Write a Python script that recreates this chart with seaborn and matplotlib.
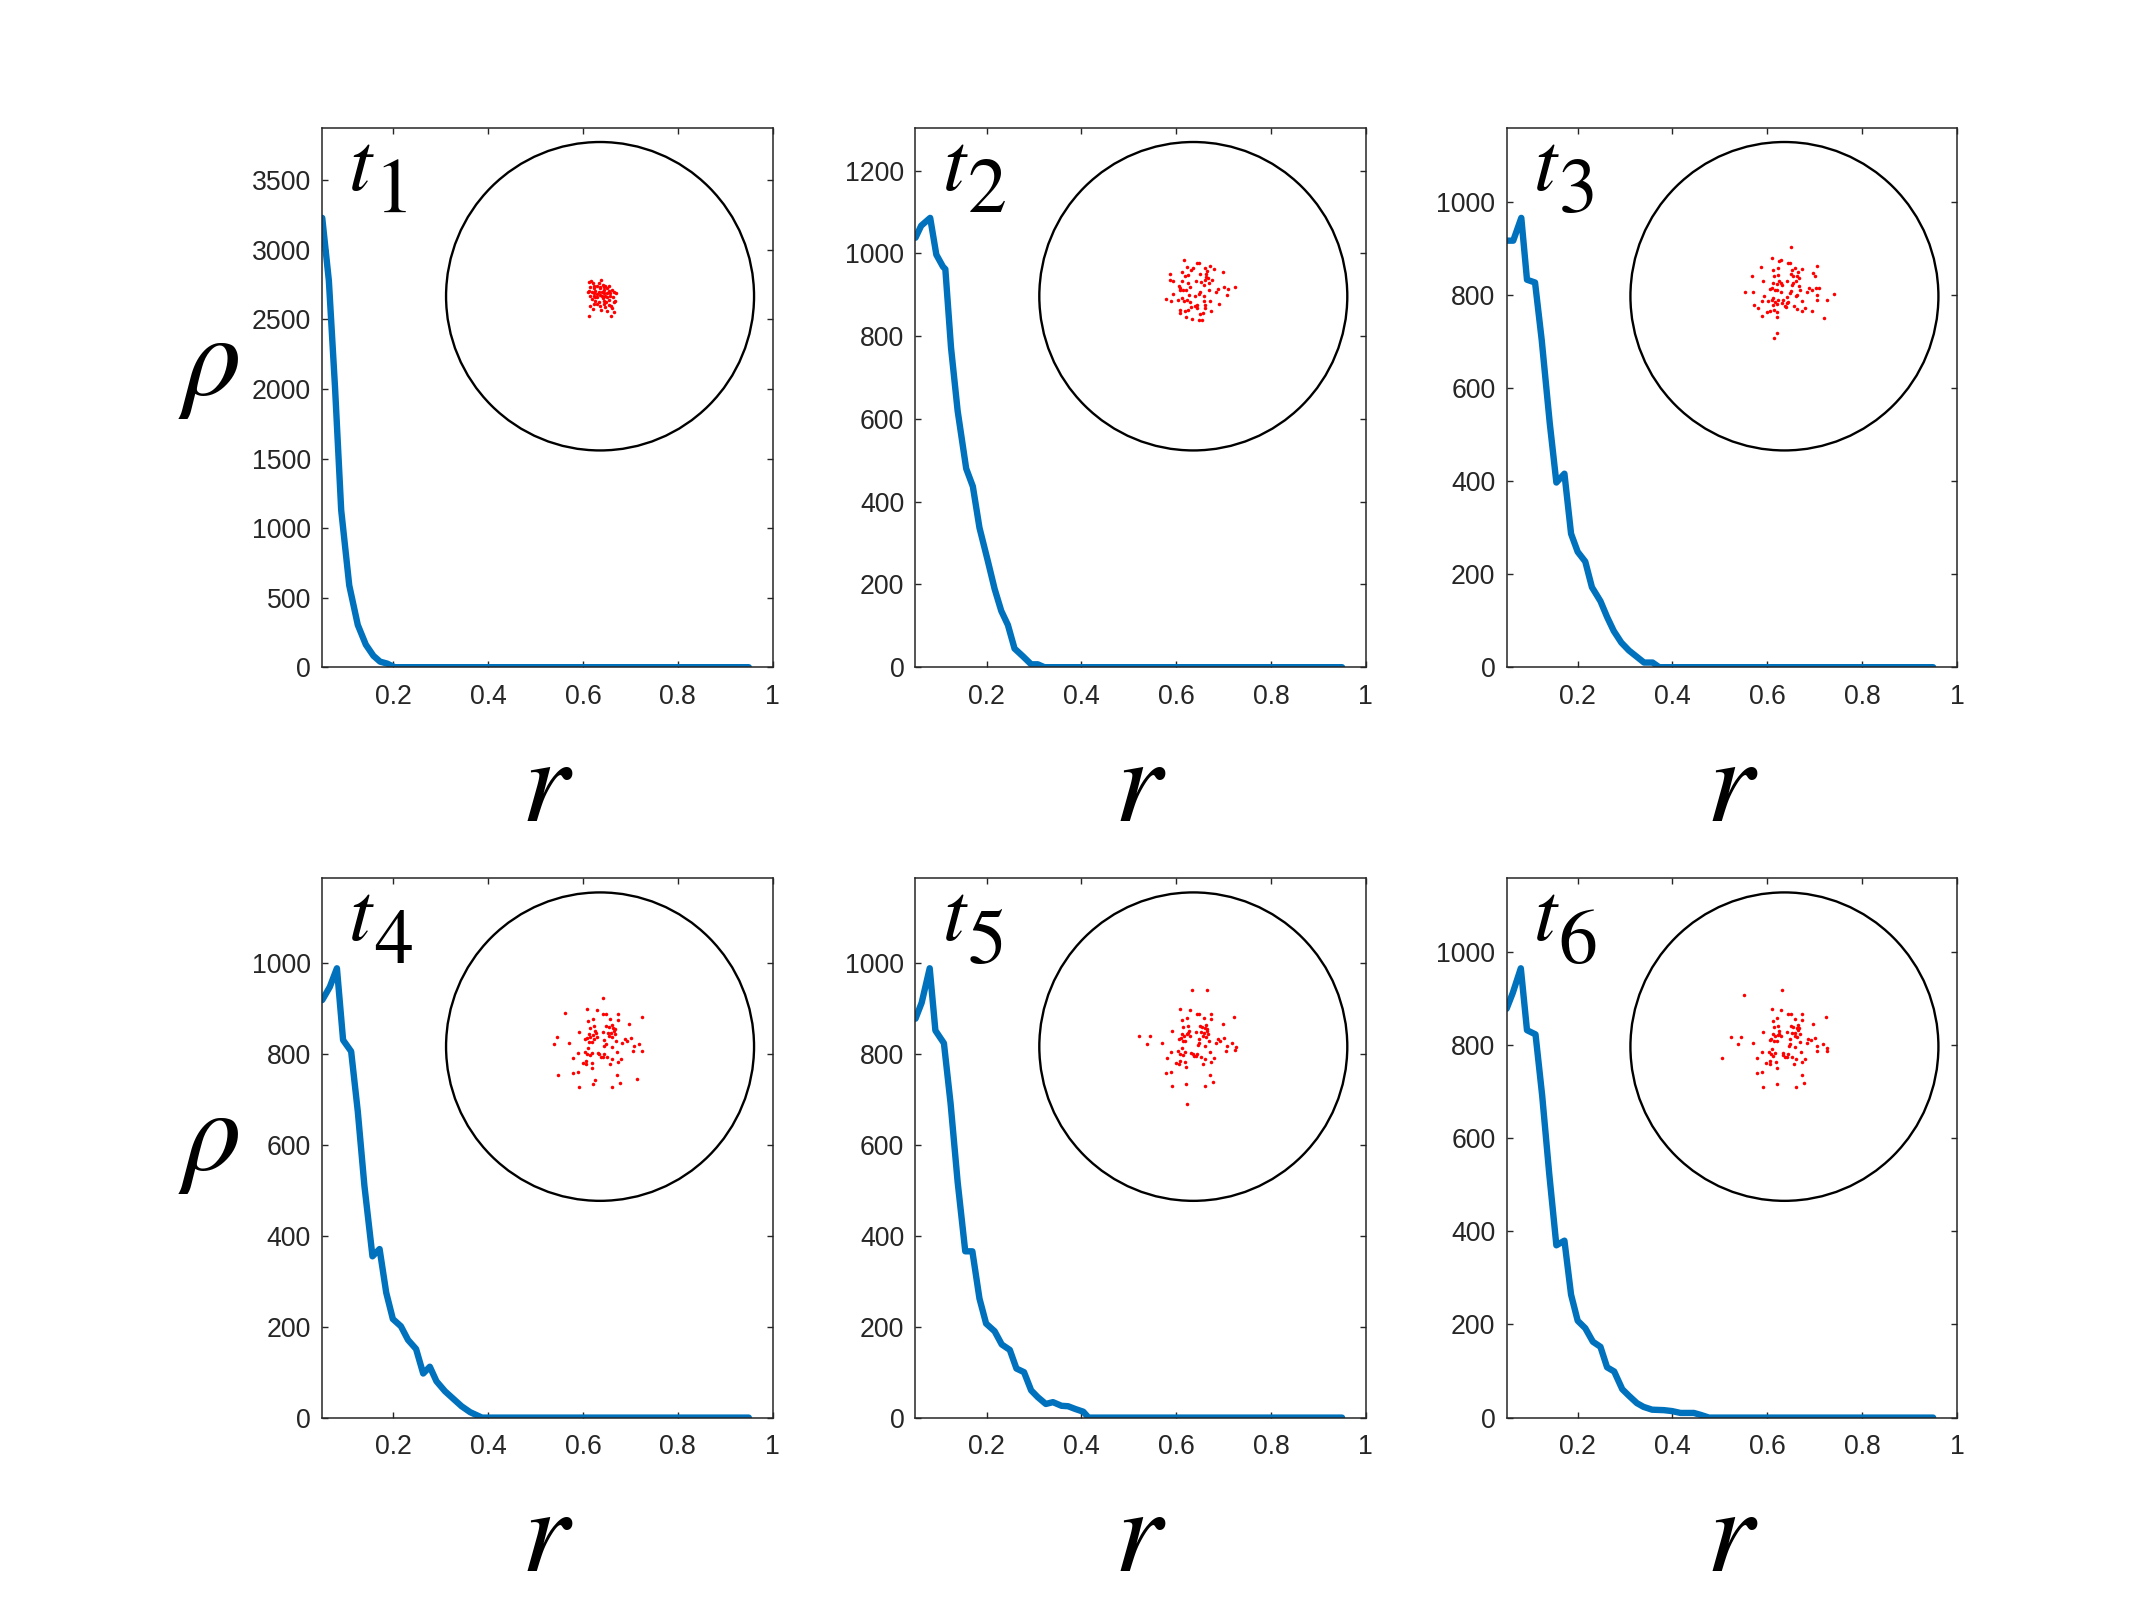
import numpy as np
import pandas as pd
import matplotlib.pyplot as plt
from matplotlib.patches import Circle
import seaborn as sns

# radial density profiles rho(r) for the six snapshots
r_t1 = [0.05, 0.064, 0.077, 0.090, 0.107, 0.125, 0.142, 0.158, 0.172, 0.187, 0.203, 0.95]
rho_t1 = [3230, 2778, 2010, 1129, 588, 304, 162, 82, 40, 26, 0, 0]

r_t2 = [0.05, 0.062, 0.081, 0.094, 0.108, 0.113, 0.125, 0.139, 0.157, 0.171, 0.185, 0.203, 0.217,
        0.231, 0.245, 0.259, 0.277, 0.294, 0.308, 0.322, 0.95]
rho_t2 = [1038, 1067, 1086, 997, 968, 962, 772, 619, 480, 437, 337, 255, 189,
          136, 102, 45, 26, 7, 7, 0, 0]

r_t3 = [0.05, 0.064, 0.081, 0.093, 0.110, 0.124, 0.141, 0.155, 0.172, 0.186, 0.200, 0.216,
        0.230, 0.248, 0.262, 0.276, 0.292, 0.308, 0.324, 0.340, 0.358, 0.372, 0.95]
rho_t3 = [917, 917, 966, 833, 827, 704, 525, 397, 416, 287, 248, 227,
          172, 142, 108, 78, 53, 36, 23, 10, 10, 0, 0]

r_t4 = [0.05, 0.066, 0.081, 0.094, 0.111, 0.125, 0.139, 0.156, 0.171, 0.185, 0.199, 0.216,
        0.231, 0.248, 0.263, 0.277, 0.291, 0.309, 0.327, 0.344, 0.362, 0.387, 0.95]
rho_t4 = [919, 948, 989, 831, 806, 674, 510, 355, 371, 275, 217, 201,
          171, 151, 97, 112, 80, 58, 41, 25, 12, 0, 0]

r_t5 = [0.05, 0.063, 0.080, 0.092, 0.110, 0.124, 0.139, 0.155, 0.170, 0.185, 0.199, 0.217, 0.232,
        0.249, 0.263, 0.279, 0.294, 0.308, 0.325, 0.340, 0.358, 0.372, 0.387, 0.404, 0.415, 0.95]
rho_t5 = [878, 913, 989, 852, 824, 692, 518, 366, 366, 262, 207, 190, 161,
          149, 108, 100, 60, 45, 30, 34, 26, 25, 19, 13, 0, 0]

r_t6 = [0.05, 0.063, 0.080, 0.093, 0.111, 0.125, 0.140, 0.155, 0.172, 0.186, 0.200, 0.216, 0.232, 0.248,
        0.262, 0.277, 0.294, 0.308, 0.325, 0.339, 0.357, 0.382, 0.399, 0.417, 0.445, 0.459, 0.477, 0.95]
rho_t6 = [878, 912, 965, 832, 823, 692, 523, 370, 380, 264, 208, 192, 163, 152,
          108, 99, 61, 47, 31, 23, 17, 16, 14, 10, 10, 6, 0, 0]

# particle positions in the disc, in thousandths of the disc radius
dots_t1 = [(-74, 95), (-58, 102), (9, 108), (-9, 87), (-41, 69), (-19, 69), (17, 74), (35, 69), (45, 52),
           (-69, 37), (-52, 26), (-30, 37), (-9, 26), (13, 30), (24, 43), (56, 37), (78, 43), (89, 26),
           (106, 22), (-63, 4), (-41, 4), (-19, -6), (2, 9), (35, 4), (45, -6), (67, 4), (84, -6),
           (100, -28), (-52, -17), (-30, -28), (-9, -39), (24, -28), (41, -39), (56, -56), (71, -61),
           (-19, -50), (-48, -82), (9, -89), (35, -71), (45, -93), (76, -78), (93, -104), (-69, -126),
           (71, -130), (-80, 26), (2, 52), (-37, 52), (63, 22), (19, -13), (-19, 15), (-45, 87), (-2, 58),
           (28, 58), (56, 65), (-67, 58), (-37, 22), (45, 22), (13, 4), (-30, -6), (24, -50), (2, -61),
           (-41, -50), (-63, -61), (89, -39), (56, -22), (28, 22)]

dots_t2 = [(-63, 234), (24, 217), (39, 217), (-41, 188), (-2, 180), (74, 184), (110, 199), (132, 175),
           (-76, 158), (-15, 169), (89, 162), (-149, 145), (-56, 134), (-35, 139), (45, 141), (84, 147),
           (193, 156), (-154, 104), (-132, 102), (-74, 97), (17, 100), (50, 93), (78, 108), (95, 119),
           (80, 126), (121, 108), (-35, 87), (-19, 61), (-95, 69), (-84, 54), (-67, 43), (-45, 39),
           (71, 76), (100, 39), (160, 50), (147, 28), (201, 58), (223, 50), (268, 63), (-178, -15),
           (-143, -32), (-132, 17), (-102, -26), (-74, -11), (-58, -32), (-41, -26), (-19, -37), (13, 0),
           (35, 17), (45, 26), (9, -61), (24, -76), (-15, -69), (71, -32), (76, -54), (110, -32),
           (167, -52), (219, 11), (-89, -87), (-89, -108), (-52, -97), (-37, -91), (-9, -145), (-48, -132),
           (39, -156), (56, -156), (45, -115), (63, -110), (78, -76), (115, -95), (24, -54), (-84, 39),
           (-30, 11), (67, 0), (100, 87)]

dots_t3 = [(43, 320), (-82, 247), (-22, 238), (-35, 229), (22, 217), (39, 217), (-152, 191), (-43, 186),
           (-76, 169), (210, 199), (69, 184), (113, 178), (87, 156), (43, 141), (58, 134), (188, 152),
           (201, 128), (-212, 130), (-39, 139), (-65, 128), (80, 130), (95, 115), (-136, 100), (-71, 87),
           (-35, 97), (-22, 89), (19, 102), (54, 89), (74, 102), (-45, 80), (-17, 71), (52, 71), (95, 65),
           (-82, 54), (-93, 48), (-61, 39), (-50, 39), (102, 39), (158, 52), (178, 39), (145, 28),
           (204, 54), (225, 52), (37, 22), (43, 32), (-255, 28), (-201, 28), (325, 17), (-134, 0),
           (-71, -11), (-82, -22), (-39, -26), (-6, -26), (15, -6), (80, 11), (74, 0), (210, 11),
           (275, -26), (210, -26), (-143, -32), (-104, -32), (-61, -37), (-50, -48), (-17, -43), (26, -37),
           (113, -28), (-195, -54), (-173, -76), (-71, -58), (4, -65), (11, -69), (63, -65), (80, -80),
           (136, -76), (-115, -102), (-93, -93), (-67, -87), (-50, -102), (113, -97), (178, -93),
           (-143, -130), (-50, -134), (260, -141), (-45, -238), (-65, -271), (19, -43), (-19, 28), (52, 169)]

dots_t4 = [(17, 314), (-225, 219), (-84, 242), (-22, 236), (22, 210), (39, 210), (117, 210), (271, 193),
           (-45, 182), (67, 182), (115, 173), (-76, 167), (191, 147), (-37, 134), (-65, 123), (39, 134),
           (56, 130), (80, 141), (95, 113), (82, 119), (89, 102), (-134, 95), (-30, 102), (-26, 91),
           (19, 95), (50, 91), (71, 87), (-74, 80), (-48, 78), (-65, 65), (-19, 65), (100, 80), (-279, 65),
           (-84, 54), (-97, 48), (-69, 32), (-52, 32), (24, 43), (61, 69), (78, 63), (160, 48), (201, 56),
           (145, 26), (175, 35), (-301, 19), (-204, 24), (255, 19), (219, 2), (102, 37), (39, 19), (28, 4),
           (76, 0), (-76, -11), (273, -28), (212, -30), (-145, -39), (-97, -32), (-54, -39), (-84, -50),
           (-65, -54), (24, -50), (-15, -43), (-9, -50), (6, -65), (17, -65), (113, -35), (136, -78),
           (-173, -76), (-113, -104), (-91, -115), (-91, -93), (-54, -104), (-50, -136), (65, -115),
           (78, -82), (115, -100), (-178, -169), (-145, -162), (-275, -186), (113, -184), (238, -208),
           (-35, -217), (-48, -245), (-139, -260), (76, -260), (128, -234), (-37, 52), (45, -65)]

dots_t5 = [(-11, 366), (87, 366), (-84, 247), (-22, 238), (22, 214), (37, 214), (115, 214), (266, 195),
           (-43, 186), (69, 184), (113, 178), (-76, 171), (191, 149), (-37, 136), (-65, 128), (41, 136),
           (54, 130), (80, 143), (89, 117), (78, 121), (87, 104), (-136, 100), (-28, 102), (-32, 87),
           (17, 97), (52, 93), (69, 89), (-71, 84), (-39, 82), (-61, 69), (-22, 69), (97, 82), (-351, 67),
           (-279, 67), (-82, 58), (-95, 52), (-65, 39), (-52, 39), (37, 50), (65, 69), (84, 65), (158, 52),
           (199, 56), (145, 26), (173, 39), (-299, 19), (-206, 26), (253, 22), (217, 6), (102, 39), (39, 22),
           (32, 9), (74, 2), (-76, -9), (277, -4), (212, -28), (-145, -35), (-97, -28), (-54, -37),
           (-84, -48), (-69, -54), (22, -45), (-13, -39), (-4, -48), (6, -63), (17, -63), (110, -32),
           (134, -76), (-173, -74), (-115, -104), (-93, -110), (-89, -91), (-54, -100), (-50, -134),
           (63, -113), (78, -80), (113, -97), (-180, -169), (-145, -162), (110, -182), (126, -229),
           (-48, -240), (-141, -258), (74, -258), (-39, -370), (273, -22), (50, -65)]

dots_t6 = [(-13, 364), (-264, 333), (-82, 242), (-19, 236), (26, 212), (41, 212), (115, 210), (268, 193),
           (-45, 184), (71, 182), (113, 175), (-76, 167), (188, 147), (-41, 132), (-67, 126), (43, 136),
           (56, 130), (87, 143), (95, 119), (80, 123), (91, 106), (-136, 97), (-32, 100), (-32, 84),
           (19, 95), (52, 91), (67, 87), (-74, 82), (-39, 78), (-58, 67), (-19, 67), (100, 80), (-349, 65),
           (-279, 65), (-87, 50), (-95, 45), (-65, 35), (-50, 35), (39, 48), (67, 69), (80, 63), (156, 50),
           (199, 56), (145, 24), (173, 45), (-301, 19), (-206, 24), (253, 19), (214, 2), (102, 32), (39, 19),
           (32, 6), (71, 0), (-78, -15), (279, -6), (210, -28), (-407, -74), (-143, -37), (-100, -37),
           (-58, -43), (-84, -50), (-71, -58), (26, -45), (-11, -41), (-6, -52), (4, -67), (15, -67),
           (108, -35), (136, -78), (-175, -76), (-117, -104), (-91, -113), (-95, -91), (-52, -100),
           (-50, -136), (63, -115), (76, -82), (115, -100), (-180, -171), (-143, -165), (113, -182),
           (130, -234), (-48, -242), (-139, -260), (74, -260), (277, -28), (52, -67)]

snap_ids = ["1", "2", "3", "4", "5", "6"]
r_all = [r_t1, r_t2, r_t3, r_t4, r_t5, r_t6]
rho_all = [rho_t1, rho_t2, rho_t3, rho_t4, rho_t5, rho_t6]
dots_all = [dots_t1, dots_t2, dots_t3, dots_t4, dots_t5, dots_t6]
ytick_steps = [500, 200, 200, 200, 200, 200]
x_ticks = [0.2, 0.4, 0.6, 0.8, 1.0]
x_ticklabels = ["0.2", "0.4", "0.6", "0.8", "1"]

BLUE = "#0072BD"
AXCOL = "#262626"

sns.set_theme(style="white")
plt.rcParams["font.family"] = ["Liberation Sans", "DejaVu Sans"]
plt.rcParams["mathtext.fontset"] = "stix"  # Times-like symbols for r, rho, t

fig = plt.figure(figsize=(10.67, 8), dpi=200)
lefts = [0.151, 0.429, 0.706]
bottoms = [0.583, 0.114]

for i in range(6):
    row, col = divmod(i, 3)
    ax = fig.add_axes([lefts[col], bottoms[row], 0.211, 0.337])
    df = pd.DataFrame({"r": r_all[i], "rho": rho_all[i]})
    sns.lineplot(data=df, x="r", y="rho", ax=ax, color=BLUE, linewidth=2.3, sort=False)

    ymax = 1.2 * max(rho_all[i])
    ax.set_xlim(0.05, 1)
    ax.set_ylim(0, ymax)
    ax.set_xticks(x_ticks)
    ax.set_xticklabels(x_ticklabels)
    ax.set_yticks(np.arange(0, ymax, ytick_steps[i]))
    ax.tick_params(direction="in", length=2, width=0.5, colors=AXCOL, labelsize=9.6,
                   bottom=True, top=True, left=True, right=True)
    ax.tick_params(axis="x", pad=6)
    ax.tick_params(axis="y", pad=4)
    for sp in ax.spines.values():
        sp.set_color(AXCOL)
        sp.set_linewidth(0.55)

    ax.set_xlabel("")
    ax.set_ylabel("")
    ax.text(0.5, -0.285, r"$r$", transform=ax.transAxes, ha="center", va="baseline",
            fontsize=44, color="black")
    if col == 0:
        ax.text(-0.253, 0.505 if row == 0 else 0.46, r"$\rho$", transform=ax.transAxes,
                ha="center", va="baseline", fontsize=42, color="black")

    # snapshot label t_k
    ax.text(0.058, 0.885, r"$t$", transform=ax.transAxes, ha="left", va="baseline",
            fontsize=30, color="black")
    ax.text(0.115, 0.844, r"$\mathrm{%s}$" % snap_ids[i], transform=ax.transAxes, ha="left",
            va="baseline", fontsize=28, color="black")

    # inset: particles in the unit disc
    ins = ax.inset_axes([0.275, 0.402, 0.684, 0.572])
    ins.add_patch(Circle((0, 0), 1, fill=False, lw=0.85, color="black", clip_on=False))
    pts = pd.DataFrame(dots_all[i], columns=["x", "y"]) / 1000.0
    sns.scatterplot(data=pts, x="x", y="y", ax=ins, color="red", s=1.6, linewidth=0, legend=False)
    ins.set_xlim(-1, 1)
    ins.set_ylim(-1, 1)
    ins.axis("off")

fig.savefig("out.png", dpi=200)
